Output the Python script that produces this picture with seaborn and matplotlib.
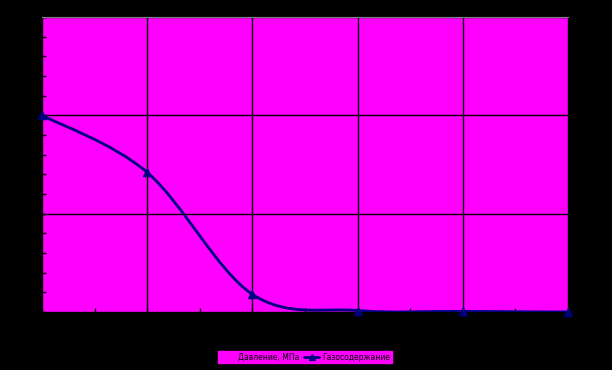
import numpy as np
import pandas as pd
import matplotlib
matplotlib.use("Agg")
import matplotlib.pyplot as plt
import seaborn as sns
from matplotlib.path import Path
from matplotlib.patches import PathPatch
from matplotlib.lines import Line2D
from matplotlib.patches import Patch

# data
pressure = [0, 1, 2, 3, 4, 5]
gas = [2.0, 1.42, 0.18, 0.015, 0.006, 0.0]
x_ticks = [0, 1, 2, 3, 4, 5]
series_pressure = "Давление, МПа"
series_gas = "Газосодержание"

sns.set_style("white")
plt.rcParams['font.family'] = ['DejaVu Sans']

MAG = "#FF00FF"
NAVY = "#000080"

fig = plt.figure(figsize=(6.12, 3.70), dpi=100, facecolor="black")
ax = fig.add_axes([42/612, 58/370, 526/612, 295/370])
ax.set_facecolor(MAG)

df = pd.DataFrame({"x": pressure, "y": gas})
sns.scatterplot(data=df, x="x", y="y", ax=ax, marker="^", s=40,
                color=NAVY, edgecolor=NAVY, zorder=5, clip_on=False)

# smooth (Catmull-Rom style) rendering of the line through the data points
xs = np.array(pressure, dtype=float)
ys = np.array(gas, dtype=float)
verts = [(xs[0], ys[0])]
codes = [Path.MOVETO]
t = 1/6
for i in range(len(xs) - 1):
    p0 = (xs[max(i-1, 0)], ys[max(i-1, 0)])
    p1 = (xs[i], ys[i])
    p2 = (xs[i+1], ys[i+1])
    p3 = (xs[min(i+2, len(xs)-1)], ys[min(i+2, len(xs)-1)])
    c1 = (p1[0] + (p2[0]-p0[0])*t, p1[1] + (p2[1]-p0[1])*t)
    c2 = (p2[0] - (p3[0]-p1[0])*t, p2[1] - (p3[1]-p1[1])*t)
    verts += [c1, c2, p2]
    codes += [Path.CURVE4]*3
ax.add_patch(PathPatch(Path(verts, codes), facecolor="none", edgecolor=NAVY,
                       lw=2, zorder=4, clip_on=True))

ax.set_xlim(0, 5)
ax.set_ylim(0, 3)
ax.set_xticks(x_ticks)
ax.set_xticks(np.arange(0.5, 5, 1), minor=True)
ax.set_yticks([0, 1, 2, 3])
ax.set_yticks(np.arange(0, 3.01, 0.2), minor=True)
ax.grid(True, which="major", color="black", lw=1.0)
ax.tick_params(axis="x", which="both", bottom=True, direction="in", length=3,
               width=1, color="black", labelcolor="black", labelsize=7)
ax.tick_params(axis="y", which="both", left=True, direction="in", length=3,
               width=1, color="black", labelcolor="black", labelsize=7)
ax.set_xlabel("")
ax.set_ylabel("")
for s in ax.spines.values():
    s.set_visible(False)
ax.spines["top"].set_visible(True)
ax.spines["top"].set_color("#808080")

handles = [Patch(facecolor=MAG, edgecolor=MAG, label=series_pressure),
           Line2D([0], [0], color=NAVY, lw=2, marker="^", markersize=5,
                  label=series_gas)]
leg = fig.legend(handles=handles, loc="center", bbox_to_anchor=(305/612, 1 - 357/370),
                 ncol=2, frameon=True, fontsize=5.5, handlelength=2.0,
                 borderpad=0.25, columnspacing=0.6, handletextpad=0.4, labelcolor="black")
leg.get_frame().set_facecolor(MAG)
leg.get_frame().set_edgecolor(MAG)
leg.get_frame().set_alpha(1)
leg.get_frame().set_boxstyle("square", pad=0)

fig.savefig("out.png", dpi=100, facecolor="black")
